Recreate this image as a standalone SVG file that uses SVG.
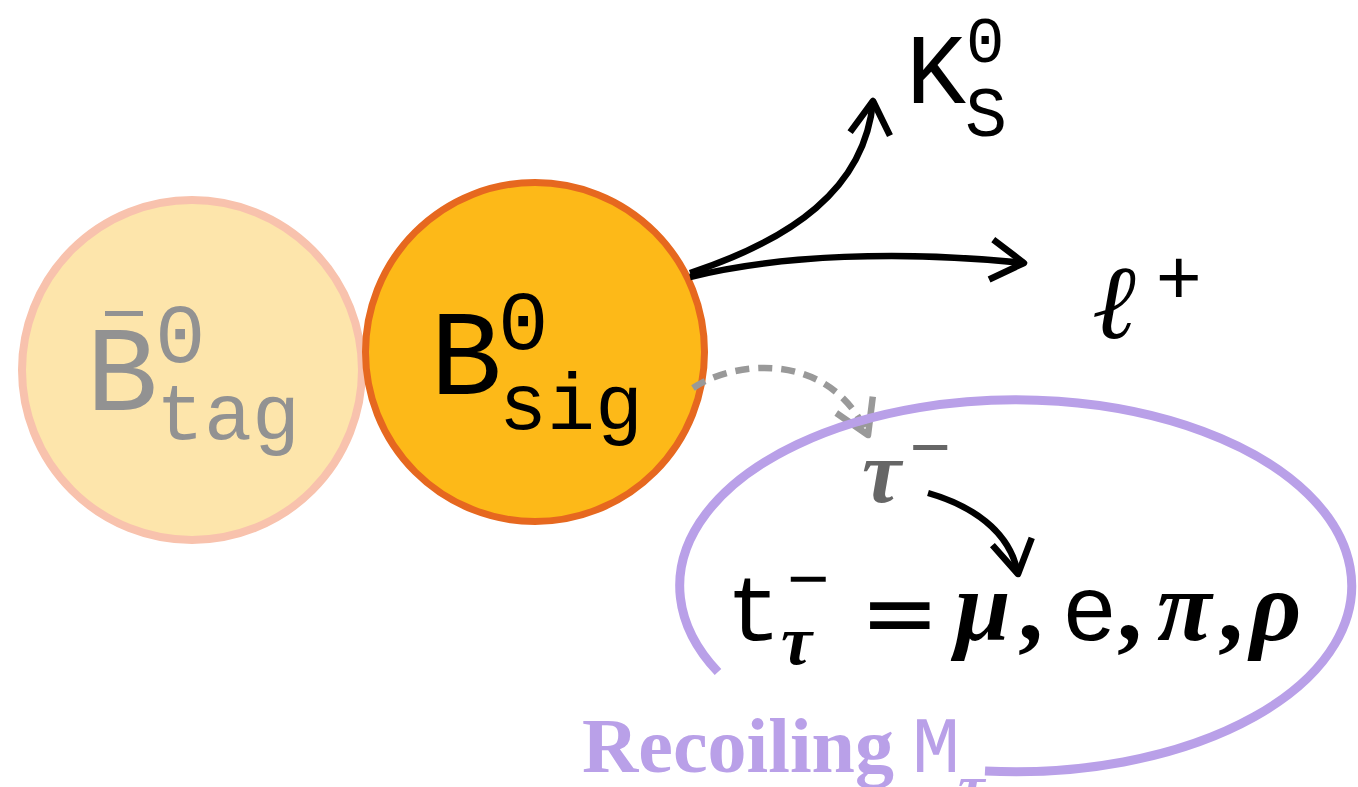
<svg xmlns="http://www.w3.org/2000/svg" width="1358" height="787" viewBox="0 0 1358 787">
<style>
.mono{font-family:"Liberation Mono",monospace}
.sans{font-family:"Liberation Sans",sans-serif}
.gk{font-family:"Liberation Serif",serif;font-style:italic;font-weight:bold}
.ser{font-family:"Liberation Serif",serif}
.conn{fill:none;stroke-width:6.5}
</style>
<defs>
<marker id="ah" markerUnits="userSpaceOnUse" viewBox="-45 -28 52 56" markerWidth="52" markerHeight="56" refX="0" refY="0" orient="auto">
<path d="M-33,-20 L0,0 L-33,20" fill="none" stroke="#000" stroke-width="6.5" stroke-linejoin="round"/>
</marker>
<marker id="ahg" markerUnits="userSpaceOnUse" viewBox="-45 -28 52 56" markerWidth="52" markerHeight="56" refX="0" refY="0" orient="auto">
<path d="M-33,-20 L0,0 L-33,20" fill="none" stroke="#999" stroke-width="6.5" stroke-linejoin="round"/>
</marker>
</defs>
<rect width="1358" height="787" fill="#fff"/>
<g id="btag">
<circle cx="192" cy="370" r="170" fill="#fde5ab" stroke="#f8c2ad" stroke-width="8"/>
<text class="mono" x="86" y="410" font-size="120" fill="#929292">B</text>
<rect x="105" y="311" width="38" height="5" fill="#929292"/>
<text class="mono" x="155" y="362" font-size="84" fill="#929292">0</text>
<text class="mono" x="156" y="439" font-size="80" fill="#929292">tag</text>
</g>
<g id="bsig">
<circle cx="535" cy="352" r="169.5" fill="#fdb918" stroke="#e6681f" stroke-width="7"/>
<text class="mono" x="430" y="394" font-size="120" fill="#000">B</text>
<text class="mono" x="498" y="349" font-size="84" fill="#000">0</text>
<text class="mono" x="499" y="429" font-size="80" fill="#000">sig</text>
</g>
<g id="connectors">
<path class="conn" d="M690,273 C790,240 865,190 873,101" stroke="#000" marker-end="url(#ah)"/>
<path class="conn" d="M690,277 C780,255 900,250 1024,263" stroke="#000" marker-end="url(#ah)"/>
<path class="conn" d="M693,388 C735,360 830,350 868,435" stroke="#999" stroke-dasharray="14 9" marker-end="url(#ahg)"/>
<path class="conn" d="M928,493 C970,505 1010,530 1018,574" stroke="#000" marker-end="url(#ah)"/>
</g>
<g id="ks">
<text class="mono" x="906" y="103" font-size="100" fill="#000">K</text>
<text class="mono" x="966" y="62" font-size="64" fill="#000">0</text>
<text class="mono" x="965" y="136" font-size="70" fill="#000">S</text>
</g>
<g id="lepton">
<text class="ser" x="1092" y="338" font-size="105" font-style="italic" fill="#000">ℓ</text>
<text class="sans" x="1156" y="304" font-size="78" fill="#000">+</text>
</g>
<g id="recoil">
<path d="M718,672 A336,186 0 1 1 985,771" fill="none" stroke="#b9a0e8" stroke-width="9"/>
<g id="tau">
<text class="gk" x="862" y="502" font-size="88" fill="#666">τ</text>
<text class="sans" x="910" y="471" font-size="70" fill="#666">−</text>
</g>
<g id="daughters">
<text class="mono" x="726" y="640" font-size="92" fill="#000">t</text>
<text class="sans" x="787" y="603" font-size="72" fill="#000">−</text>
<text class="gk" x="781" y="664" font-size="70" fill="#000">τ</text>
<text font-family="DejaVu Sans,sans-serif" x="860" y="645" font-size="95" fill="#000">=</text>
<text class="gk" x="955" y="640" font-size="100" fill="#000">μ</text>
<text class="ser" x="1018" y="640" font-size="100" font-weight="bold" fill="#000">,</text>
<text class="sans" x="1064" y="640" font-size="92" fill="#000">e</text>
<text class="ser" x="1117" y="640" font-size="100" font-weight="bold" fill="#000">,</text>
<text class="gk" x="1157" y="640" font-size="100" fill="#000">π</text>
<text class="ser" x="1218" y="640" font-size="100" font-weight="bold" fill="#000">,</text>
<text class="gk" x="1250" y="640" font-size="100" fill="#000">ρ</text>
</g>
<g id="label">
<text class="ser" x="582" y="772" font-size="78" font-weight="bold" fill="#b9a0e8">Recoiling</text>
<text class="mono" x="912" y="772" font-size="80" fill="#b9a0e8">M</text>
<text class="gk" x="958" y="806" font-size="60" fill="#b9a0e8">τ</text>
</g>
</g>
</svg>
